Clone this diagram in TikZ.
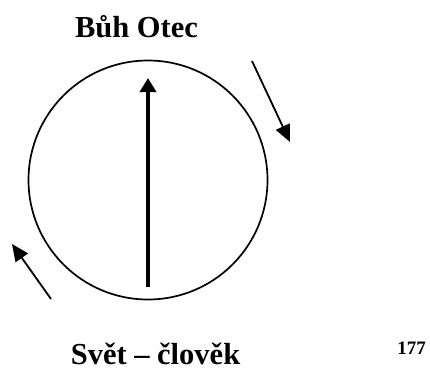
\documentclass[tikz,border=0pt]{standalone}
\usepackage{fontspec}
\setmainfont{Liberation Serif}
\usetikzlibrary{arrows.meta}
\begin{document}
\begin{tikzpicture}[x=1pt,y=-1pt,
  bigtext/.style={font=\fontsize{30.5}{36}\selectfont\bfseries, anchor=base, inner sep=0pt, text depth=0pt},
  numtext/.style={font=\fontsize{19}{22}\selectfont\bfseries, anchor=base, inner sep=0pt},
  mainarrow/.style={line width=3.8pt, -{Triangle[length=14pt,width=16pt]}},
  sidearrow/.style={line width=1.8pt, -{Triangle[length=17pt,width=15pt]}}]
\useasboundingbox[fill=white] (0,0) rectangle (430,372);
\node[circle, draw, line width=1.7pt, minimum size=239pt, inner sep=0pt, outer sep=0pt] (circ) at (148,180) {};
\node[bigtext] (top) at (136.5,37) {Bůh Otec};
\node[bigtext] (bottom) at (155.5,364) {Svět – člověk};
\node[numtext] (num) at (411.5,354) {177};
\coordinate (vstart) at (148,287);
\coordinate (vend) at (148,78);
\draw[mainarrow] (vstart) -- (vend);
\coordinate (rstart) at (252,61);
\coordinate (rend) at (290,142);
\draw[sidearrow] (rstart) -- (rend);
\coordinate (lstart) at (51,299);
\coordinate (lend) at (12,244);
\draw[sidearrow] (lstart) -- (lend);
\end{tikzpicture}
\end{document}
